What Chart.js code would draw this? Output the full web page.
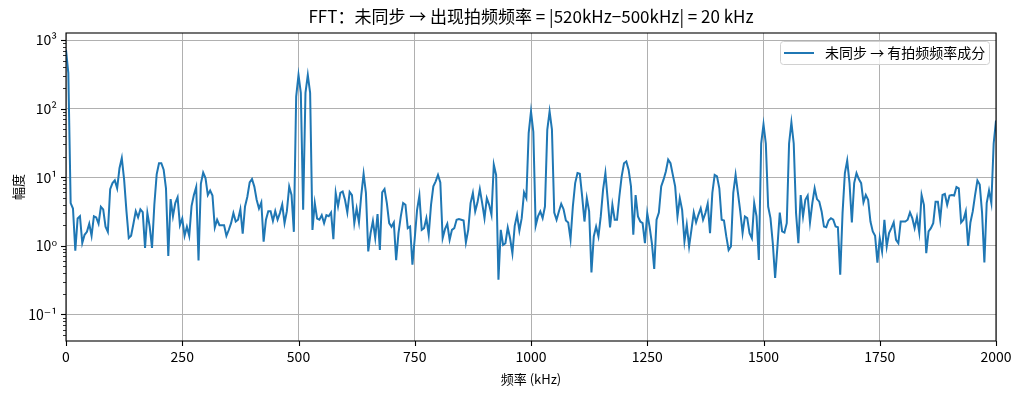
<!DOCTYPE html>
<html>
<head>
<meta charset="utf-8">
<script src="https://cdn.jsdelivr.net/npm/chart.js@4.4.1/dist/chart.umd.min.js"></script>
<style>
  html, body { margin: 0; padding: 0; background: #ffffff; }
  #wrap { width: 1021px; height: 395px; }
</style>
</head>
<body>
<div id="wrap"><canvas id="fft" width="1021" height="395"></canvas></div>
<script>
// ---- data (FFT bins every 5 kHz) ----
const binStepKHz = 5;
const amp0to495 = [
  720, 330, 4.2, 3.5, 0.85, 2.5, 2.7, 1.1, 1.45, 1.6,
  2.1, 1.4, 2.7, 2.6, 2.1, 3.7, 3.4, 1.9, 1.6, 6.7,
  8.2, 9, 6.9, 13.5, 19, 9.2, 3.2, 1.3, 1.4, 2.1,
  3.2, 2.6, 3.4, 3.1, 0.93, 3.0, 1.9, 0.93, 4, 11,
  16, 16, 12.9, 6.9, 0.71, 4.8, 2.7, 4.2, 5.1, 2.0,
  2.5, 1.4, 1.9, 1.4, 3.8, 5.5, 7.2, 0.61, 8, 11.7,
  9.7, 5.5, 6.4, 5.4, 1.85, 2.4, 2.0, 2.0, 2.0, 1.4,
  1.7, 2.14, 3.0, 2.26, 2.4, 3.4, 1.5, 3.75, 5.2, 8.4,
  9.4, 7.3, 4.7, 3.5, 4.3, 1.15, 2.4, 3.2, 3.2, 2.3,
  3.2, 2.4, 3.0, 4.0, 2.14, 3.2, 7.3, 5.5, 1.6, 150
];
const amp500to995 = [
  310, 170, 3.35, 170, 310, 170, 1.7, 4.2, 2.5, 2.4,
  2.8, 2.14, 2.8, 2.7, 3.06, 1.25, 5.9, 3.75, 5.9, 6.2,
  4.7, 3.06, 6.1, 5.5, 2.14, 3.5, 2.2, 5.5, 11.2, 5.9,
  0.83, 1.53, 2.3, 1.3, 2.9, 0.87, 6.0, 6.7, 4.2, 2.14,
  1.9, 2.19, 0.62, 1.53, 2.68, 4.2, 3.96, 1.81, 1.91, 0.53,
  1.29, 3.35, 5.4, 1.71, 1.81, 2.53, 1.45, 3.96, 7.36, 8.7,
  10.8, 8.4, 1.29, 1.75, 2.09, 1.22, 1.71, 1.81, 2.4, 2.45,
  2.4, 2.34, 1.12, 1.71, 4.2, 5.9, 3.17, 4.3, 6.7, 4.2,
  2.53, 4.96, 3.96, 2.83, 15.2, 10.8, 0.32, 1.71, 1.03, 1.09,
  1.85, 1.29, 0.78, 1.96, 2.83, 1.66, 2.53, 6.0, 4.96, 44
];
const amp1000to1495 = [
  91, 46, 1.96, 2.68, 3.17, 2.53, 3.74, 49, 91, 50,
  3.06, 2.4, 3.17, 4.1, 3.42, 2.34, 2.19, 1.25, 3.74, 8.2,
  11.5, 11.2, 5.24, 2.26, 4.96, 3.17, 0.41, 1.37, 1.91, 1.37,
  2.68, 6.6, 11.5, 4.7, 1.85, 3.96, 2.4, 2.4, 5.24, 10.3,
  16, 17, 12.8, 7.36, 1.45, 5.5, 2.68, 2.26, 2.14, 1.09,
  3.0, 1.91, 1.09, 0.46, 2.4, 3.06, 7.36, 9.2, 12.1, 18,
  16, 10.8, 7.36, 2.68, 4.96, 3.35, 1.16, 2.02, 0.98, 1.71,
  3.06, 2.19, 2.83, 3.54, 2.4, 3.0, 4.1, 1.53, 5.9, 10.8,
  10.3, 6.9, 2.4, 2.34, 1.37, 0.87, 0.98, 5.9, 10.8, 5.9,
  3.17, 1.53, 2.68, 2.53, 1.53, 1.29, 4.2, 2.68, 0.62, 31
];
const amp1500to2000 = [
  59, 31, 3.74, 2.53, 1.09, 0.34, 0.98, 3.06, 1.62, 1.56,
  2.14, 31, 63, 31, 3.0, 1.09, 5.5, 2.68, 4.7, 5.4,
  2.19, 4.2, 6.9, 4.8, 4.4, 3.17, 1.91, 1.87, 2.34, 2.53,
  2.4, 1.91, 1.87, 0.38, 3.0, 11.5, 17.5, 8.2, 2.19, 8.2,
  11.5, 9.4, 8.2, 4.3, 5.5, 4.7, 2.26, 1.62, 1.40, 0.57,
  1.29, 0.83, 2.4, 0.98, 1.53, 1.81, 2.19, 1.22, 1.09, 2.26,
  2.26, 2.26, 2.4, 3.06, 2.53, 1.81, 2.62, 1.56, 5.5, 3.96,
  0.78, 1.62, 1.81, 2.14, 4.4, 4.4, 2.4, 5.5, 5.7, 3.96,
  5.4, 5.5, 5.4, 7.2, 6.9, 2.19, 2.4, 3.17, 1.0, 2.19,
  3.17, 5.5, 8.95, 7.8, 3.06, 0.57, 4.2, 6.4, 4.2, 31,
  67
];
const xTicks = [0, 250, 500, 750, 1000, 1250, 1500, 1750, 2000];
const yMajorTicks = [0.1, 1, 10, 100, 1000];
const yTickLabels = ['10⁻¹', '10⁰', '10¹', '10²', '10³'];

const titleText = 'FFT：未同步 → 出现拍频频率 = |520kHz−500kHz| = 20 kHz';
const seriesLabel = '未同步 → 有拍频频率成分';
const xTitle = '频率 (kHz)';
const yTitle = '幅度';

const FONT = '"Noto Sans CJK SC", "DejaVu Sans", sans-serif';
const LINE_BLUE = '#1f77b4';

const amplitude = amp0to495.concat(amp500to995, amp1000to1495, amp1500to2000);
const points = amplitude.map((v, i) => ({ x: i * binStepKHz, y: v }));

// ---- spines, tick marks, title, legend, axis titles ----
const decorPlugin = {
  id: 'decor',
  afterDraw(chart) {
    const ctx = chart.ctx;
    const a = chart.chartArea;
    const xs = chart.scales.x, ys = chart.scales.y;
    ctx.save();

    // tick marks (outside)
    ctx.strokeStyle = '#000';
    ctx.lineWidth = 1.1;
    xTicks.forEach(t => {
      const px = Math.round(xs.getPixelForValue(t)) + 0.5;
      ctx.beginPath(); ctx.moveTo(px, a.bottom); ctx.lineTo(px, a.bottom + 5); ctx.stroke();
    });
    yMajorTicks.forEach(t => {
      const py = Math.round(ys.getPixelForValue(t)) + 0.5;
      ctx.beginPath(); ctx.moveTo(a.left, py); ctx.lineTo(a.left - 5, py); ctx.stroke();
    });
    ctx.lineWidth = 0.8;
    for (let e = -2; e <= 3; e++) {
      for (let m = 2; m <= 9; m++) {
        const v = m * Math.pow(10, e);
        if (v < ys.min || v > ys.max) continue;
        const py = Math.round(ys.getPixelForValue(v)) + 0.5;
        ctx.beginPath(); ctx.moveTo(a.left, py); ctx.lineTo(a.left - 3, py); ctx.stroke();
      }
    }

    // spines
    ctx.lineWidth = 1.1;
    ctx.strokeRect(a.left, a.top, a.right - a.left, a.bottom - a.top);

    // title
    ctx.fillStyle = '#000';
    ctx.font = '17px ' + FONT;
    ctx.textAlign = 'center';
    ctx.textBaseline = 'middle';
    ctx.fillText(titleText, (a.left + a.right) / 2, 17);

    // axis titles
    ctx.font = '13px ' + FONT;
    ctx.fillText(xTitle, (a.left + a.right) / 2, 379);
    ctx.save();
    ctx.translate(18, (a.top + a.bottom) / 2);
    ctx.rotate(-Math.PI / 2);
    ctx.fillText(yTitle, 0, 0);
    ctx.restore();

    // legend box
    const lx = 780, ly = 41, lw = 209, lh = 23;
    ctx.fillStyle = 'rgba(255,255,255,0.8)';
    ctx.strokeStyle = '#d0d0d0';
    ctx.lineWidth = 1;
    ctx.beginPath();
    ctx.roundRect(lx + 0.5, ly + 0.5, lw, lh, 3);
    ctx.fill(); ctx.stroke();
    ctx.strokeStyle = LINE_BLUE;
    ctx.lineWidth = 2;
    ctx.beginPath(); ctx.moveTo(784, 53); ctx.lineTo(814, 53); ctx.stroke();
    ctx.fillStyle = '#000';
    ctx.font = '14px ' + FONT;
    ctx.textAlign = 'left';
    ctx.fillText(seriesLabel, 825, 53);

    ctx.restore();
  }
};

new Chart(document.getElementById('fft'), {
  type: 'line',
  data: {
    datasets: [{
      label: seriesLabel,
      data: points,
      borderColor: LINE_BLUE,
      borderWidth: 2,
      pointRadius: 0,
      tension: 0,
      fill: false
    }]
  },
  options: {
    responsive: false,
    animation: false,
    devicePixelRatio: 1,
    layout: { padding: { left: 0, top: 33, right: 25, bottom: 0 } },
    plugins: {
      legend: { display: false },
      title: { display: false },
      tooltip: { enabled: false }
    },
    scales: {
      x: {
        type: 'linear',
        min: 0,
        max: 2000,
        afterBuildTicks: s => { s.ticks = xTicks.map(v => ({ value: v })); },
        ticks: {
          color: '#000',
          font: { family: FONT, size: 14 },
          padding: 7,
          maxRotation: 0,
          autoSkip: false,
          callback: v => String(v)
        },
        grid: { color: '#b0b0b0', lineWidth: 1, drawTicks: false },
        border: { display: false },
        afterFit: s => { s.height = 54; }
      },
      y: {
        type: 'logarithmic',
        min: 0.041,
        max: 1265,
        afterBuildTicks: s => { s.ticks = yMajorTicks.map(v => ({ value: v })); },
        ticks: {
          color: '#000',
          font: { family: FONT, size: 14 },
          padding: 9,
          autoSkip: false,
          callback: v => yTickLabels[yMajorTicks.indexOf(v)] || ''
        },
        grid: { color: '#b0b0b0', lineWidth: 1, drawTicks: false },
        border: { display: false },
        afterFit: s => { s.width = 66; }
      }
    }
  },
  plugins: [decorPlugin]
});
</script>
</body>
</html>
